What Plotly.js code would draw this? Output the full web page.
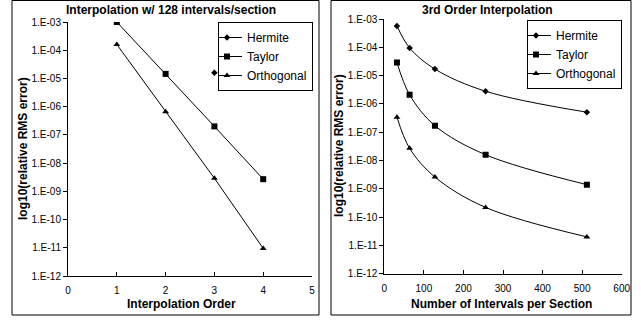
<!DOCTYPE html>
<html>
<head>
<meta charset="utf-8">
<script src="https://cdn.plot.ly/plotly-3.0.1.min.js"></script>
<style>html,body{margin:0;padding:0;background:#fff;}#chart{width:641px;height:322px;}</style>
</head>
<body>
<div id="chart"></div>
<script>
// Left panel: interpolation order (128 intervals/section)
const orderX = [1, 2, 3, 4];
const taylorByOrder = [1.0e-3, 1.45e-5, 2.0e-7, 2.7e-9];
const orthoByOrder = [1.6e-4, 6.6e-7, 2.9e-9, 9.5e-12];
const hermiteOrderX = [3];
const hermiteByOrder = [1.6e-5];

// Right panel: 3rd order interpolation
const intervals = [32, 64, 128, 256, 512];
const hermiteByIntervals = [5.7e-4, 9.5e-5, 1.7e-5, 2.8e-6, 5.1e-7];
const taylorByIntervals = [2.9e-5, 2.1e-6, 1.7e-7, 1.6e-8, 1.4e-9];
const orthoByIntervals = [3.4e-7, 2.7e-8, 2.6e-9, 2.2e-10, 2.0e-11];

const yTickVals = [1e-12, 1e-11, 1e-10, 1e-9, 1e-8, 1e-7, 1e-6, 1e-5, 1e-4, 1e-3];
const yTickText = ["1.E-12","1.E-11","1.E-10","1.E-09","1.E-08","1.E-07","1.E-06","1.E-05","1.E-04","1.E-03"];

const W = 641, H = 322;
const px = v => v / W;
const py = v => 1 - v / H;
const FONT = "Arial, 'Liberation Sans', sans-serif";

const mk = {
  hermite: {symbol: 'diamond', size: 5, color: '#000'},
  taylor: {symbol: 'square', size: 6, color: '#000'},
  ortho: {symbol: 'triangle-up', size: 6, color: '#000'}
};
const ln = {color: '#000', width: 1};

const traces = [
  {x: hermiteOrderX, y: hermiteByOrder, name: 'Hermite', mode: 'lines+markers', marker: mk.hermite, line: ln, xaxis: 'x', yaxis: 'y', legend: 'legend'},
  {x: orderX, y: taylorByOrder, name: 'Taylor', mode: 'lines+markers', marker: mk.taylor, line: ln, xaxis: 'x', yaxis: 'y', legend: 'legend'},
  {x: orderX, y: orthoByOrder, name: 'Orthogonal', mode: 'lines+markers', marker: mk.ortho, line: ln, xaxis: 'x', yaxis: 'y', legend: 'legend'},
  {x: intervals, y: hermiteByIntervals, name: 'Hermite', mode: 'lines+markers', marker: mk.hermite, line: Object.assign({shape: 'spline', smoothing: 1}, ln), xaxis: 'x2', yaxis: 'y2', legend: 'legend2'},
  {x: intervals, y: taylorByIntervals, name: 'Taylor', mode: 'lines+markers', marker: mk.taylor, line: Object.assign({shape: 'spline', smoothing: 1}, ln), xaxis: 'x2', yaxis: 'y2', legend: 'legend2'},
  {x: intervals, y: orthoByIntervals, name: 'Orthogonal', mode: 'lines+markers', marker: mk.ortho, line: Object.assign({shape: 'spline', smoothing: 1}, ln), xaxis: 'x2', yaxis: 'y2', legend: 'legend2'}
];

const yAxisBase = {
  type: 'log', range: [-12, -3], tickvals: yTickVals, ticktext: yTickText,
  showline: true, linecolor: '#000', linewidth: 1, ticks: 'outside', ticklen: 4, tickcolor: '#000',
  showgrid: false, zeroline: false, tickfont: {family: FONT, size: 10, color: '#000'}
};
const xAxisBase = {
  showline: true, linecolor: '#000', linewidth: 1, ticks: 'inside', ticklen: 4, tickcolor: '#000',
  showgrid: false, zeroline: false, ticklabelstandoff: 5, tickfont: {family: FONT, size: 10, color: '#000'}
};
const legendBase = {
  font: {family: FONT, size: 12, color: '#000'}, bgcolor: '#fff', bordercolor: '#000', borderwidth: 1,
  xanchor: 'right', yanchor: 'top', itemwidth: 30, tracegroupgap: 0, indentation: -12
};

const layout = {
  width: W, height: H,
  margin: {l: 0, r: 0, t: 0, b: 0},
  paper_bgcolor: '#fff', plot_bgcolor: '#fff',
  font: {family: FONT, color: '#000'},
  xaxis: Object.assign({}, xAxisBase, {domain: [px(68), px(312)], range: [0, 5], dtick: 1, anchor: 'y'}),
  yaxis: Object.assign({}, yAxisBase, {domain: [py(276), py(22)], anchor: 'x'}),
  xaxis2: Object.assign({}, xAxisBase, {domain: [px(384.3), px(621.7)], range: [0, 600], dtick: 100, anchor: 'y2'}),
  yaxis2: Object.assign({}, yAxisBase, {domain: [py(273.7), py(19)], anchor: 'x2'}),
  legend: Object.assign({}, legendBase, {x: px(313), y: py(22)}),
  legend2: Object.assign({}, legendBase, {x: px(622), y: py(20)}),
  shapes: [
    {type: 'rect', xref: 'paper', yref: 'paper', x0: px(12), x1: px(319), y0: py(315), y1: py(0.5), line: {color: '#000', width: 1}},
    {type: 'rect', xref: 'paper', yref: 'paper', x0: px(331), x1: px(631), y0: py(315), y1: py(0.5), line: {color: '#000', width: 1}}
  ],
  annotations: [
    {text: '<b>Interpolation w/ 128 intervals/section</b>', xref: 'paper', yref: 'paper', x: px(171), y: py(10), xanchor: 'center', yanchor: 'middle', showarrow: false, font: {family: FONT, size: 12, color: '#000'}},
    {text: '<b>3rd Order Interpolation</b>', xref: 'paper', yref: 'paper', x: px(487), y: py(10), xanchor: 'center', yanchor: 'middle', showarrow: false, font: {family: FONT, size: 12, color: '#000'}},
    {text: '<b>Interpolation Order</b>', xref: 'paper', yref: 'paper', x: px(181.7), y: py(304), xanchor: 'center', yanchor: 'middle', showarrow: false, font: {family: FONT, size: 12, color: '#000'}},
    {text: '<b>Number of Intervals per Section</b>', xref: 'paper', yref: 'paper', x: px(501.7), y: py(304), xanchor: 'center', yanchor: 'middle', showarrow: false, font: {family: FONT, size: 12, color: '#000'}},
    {text: '<b>log10(relative RMS error)</b>', xref: 'paper', yref: 'paper', x: px(23), y: py(149), xanchor: 'center', yanchor: 'middle', textangle: -90, showarrow: false, font: {family: FONT, size: 12, color: '#000'}},
    {text: '<b>log10(relative RMS error)</b>', xref: 'paper', yref: 'paper', x: px(339), y: py(146), xanchor: 'center', yanchor: 'middle', textangle: -90, showarrow: false, font: {family: FONT, size: 12, color: '#000'}}
  ]
};

Plotly.newPlot('chart', traces, layout, {displayModeBar: false, staticPlot: true});
</script>
</body>
</html>
